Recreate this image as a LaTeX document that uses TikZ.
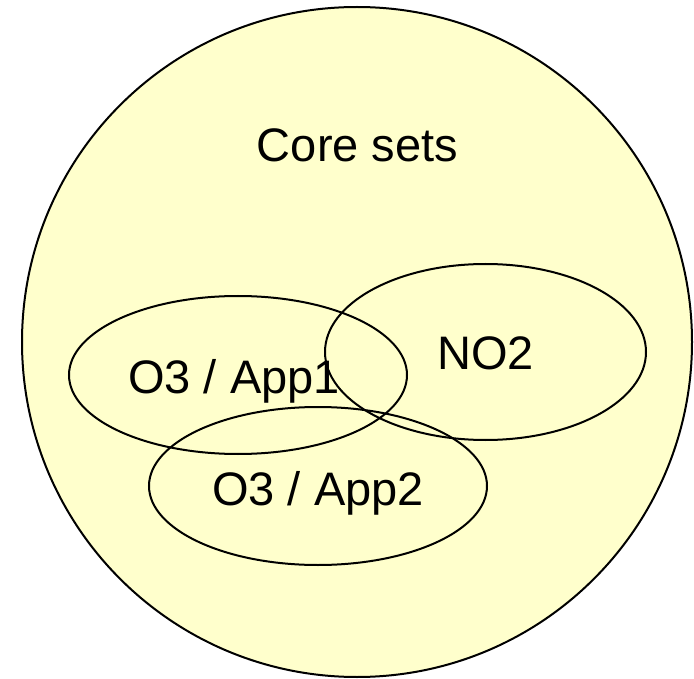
\documentclass[tikz,border=0pt]{standalone}
\usepackage{fontspec}
\setmainfont{Liberation Sans}
\usetikzlibrary{shapes.geometric}
\definecolor{setfill}{HTML}{FFFFCC}
\tikzset{
  setring/.style={ellipse, draw=black, line width=2pt, inner sep=0pt},
  setlabel/.style={anchor=base, inner sep=0pt, font=\fontsize{47}{56}\selectfont}
}
\begin{document}
\begin{tikzpicture}[x=1pt, y=-1pt]
  \useasboundingbox (0,0) rectangle (694,679);
  % outer universe of core sets
  \node[setring, fill=setfill, minimum width=670pt, minimum height=670pt] (core) at (357,342) {};
  % overlapping subsets
  \node[setring, minimum width=338pt, minimum height=158pt] (app1) at (238,375) {};
  \node[setring, minimum width=321pt, minimum height=176pt] (no2) at (485.5,352) {};
  \node[setring, minimum width=338pt, minimum height=158pt] (app2) at (318,486) {};
  % labels
  \node[setlabel] (coretxt) at (357.5,162) {Core sets};
  \node[setlabel] (app1txt) at (234,393) {O3 / App1};
  \node[setlabel] (no2txt) at (485.5,369) {NO2};
  \node[setlabel] (app2txt) at (318,505) {O3 / App2};
\end{tikzpicture}
\end{document}
